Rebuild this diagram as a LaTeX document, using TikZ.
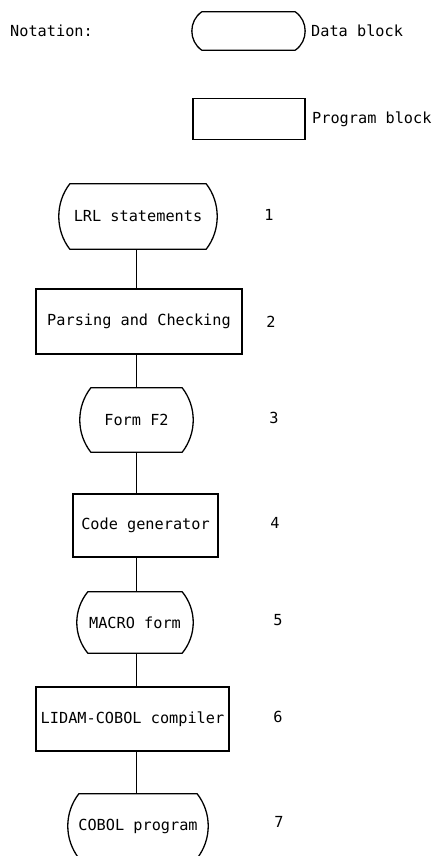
\documentclass[tikz,border=0pt]{standalone}
\usepackage{fontspec}
\setmonofont{DejaVu Sans Mono}
\newcommand\datashape[4]{%
  \draw[shapeline] ([xshift=#2bp]#1.north west) -- ([xshift=-#2bp]#1.north east)
    .. controls ([shift={(#3,#4)}]#1.north east) and ([shift={(#3,-#4)}]#1.south east) .. ([xshift=-#2bp]#1.south east)
    -- ([xshift=#2bp]#1.south west)
    .. controls ([shift={(-#3,-#4)}]#1.south west) and ([shift={(-#3,#4)}]#1.north west) .. cycle;}
\begin{document}
\begin{tikzpicture}[x=1bp,y=-1bp,
  every node/.style={font=\ttfamily\fontsize{15.3}{18}\selectfont, inner sep=0pt},
  shapeline/.style={line width=1.3bp, line join=round},
  datanode/.style={minimum width=#1},
  prognode/.style={draw, line width=1.2bp, minimum width=#1},
  conn/.style={line width=1.2bp},
  lbl/.style={anchor=west}]
\useasboundingbox (0,0) rectangle (447,856);

% legend
\node[lbl] (nota) at (10,31) {Notation:};
\node[datanode=113bp, minimum height=38bp] (ld) at (248.5,31) {};
\datashape{ld}{10}{3.3}{9}
\node[lbl] (ldt) at (311,31) {Data block};
\node[prognode=112bp, minimum height=41bp] (lp) at (249,119) {};
\node[lbl] (lpt) at (312,119) {Program block};

\coordinate (spine) at (136.5,0);

% chain
\node[datanode=158bp, minimum height=65bp] (s1) at (138,216.5) {LRL statements};
\datashape{s1}{11}{3.7}{19}
\node[prognode=206bp, minimum height=65bp] (s2) at (139,321.5) {Parsing and Checking};
\node[datanode=113bp, minimum height=64bp] (s3) at (136.5,420) {Form F2};
\datashape{s3}{11}{3.7}{19}
\node[prognode=145bp, minimum height=63bp] (s4) at (145.5,525.5) {Code generator};
\node[datanode=116bp, minimum height=61bp] (s5) at (135,622.5) {MACRO form};
\datashape{s5}{11}{3.7}{18}
\node[prognode=193bp, minimum height=64bp] (s6) at (132.5,719) {LIDAM-COBOL compiler};
\node[datanode=140bp, minimum height=64bp] (s7) at (138,826) {COBOL program};
\datashape{s7}{11}{3.7}{19}

\foreach \a/\b in {s1/s2,s2/s3,s3/s4,s4/s5,s5/s6,s6/s7}
  \draw[conn] (\a.south -| spine) -- (\b.north -| spine);

% numbers
\node (n1) at (269,215) {1};
\node (n2) at (271,322) {2};
\node (n3) at (274,418) {3};
\node (n4) at (275,523) {4};
\node (n5) at (278,620) {5};
\node (n6) at (278,717) {6};
\node (n7) at (279,822) {7};
\end{tikzpicture}
\end{document}
